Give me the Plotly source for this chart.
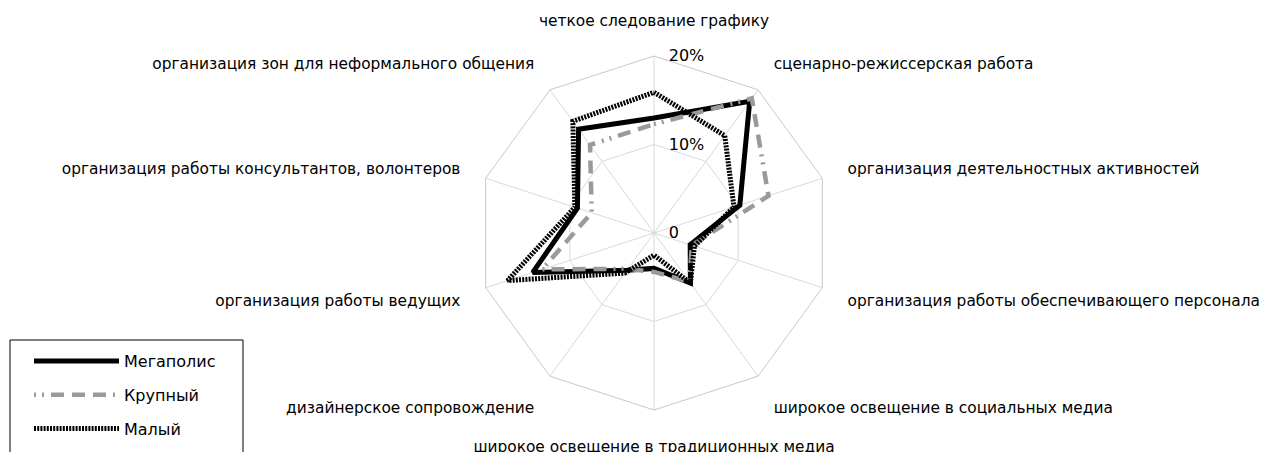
import plotly.graph_objects as go

categories = [
    "четкое следование графику",
    "сценарно-режиссерская работа",
    "организация деятельностных активностей",
    "организация работы обеспечивающего персонала",
    "широкое освещение в социальных медиа",
    "широкое освещение в традиционных медиа",
    "дизайнерское сопровождение",
    "организация работы ведущих",
    "организация работы консультантов, волонтеров",
    "организация зон для неформального общения",
]
megapolis = [13.0, 18.4, 10.2, 4.3, 7.0, 4.0, 5.2, 14.4, 9.1, 14.5]
krupny = [12.3, 18.8, 13.6, 4.5, 6.8, 4.4, 5.0, 13.3, 7.4, 12.3]
malyi = [15.9, 13.6, 9.5, 4.8, 7.0, 2.5, 5.6, 17.4, 9.4, 15.6]
series_names = ["Мегаполис", "Крупный", "Малый"]
radial_ticks = [0, 10, 20]
radial_ticktext = ["0", "10%", "20%"]

FONT = "DejaVu Sans, Liberation Sans, Arial, sans-serif"
OFF = 8  # page body margin offset
W, H = 1276 - OFF, 452 - OFF

def closed(v):
    return list(v) + [v[0]]

cats_closed = closed(categories)

fig = go.Figure()
styles = [
    dict(color="#000000", width=5, dash="solid"),
    dict(color="#9a9a9a", width=4.5, dash="2px,6px,2px,7px,13px,8px,13px,8px,13px,7px"),
    dict(color="#000000", width=5, dash="2px,1.2px"),
]
for i, (name, vals) in enumerate(zip(series_names, [megapolis, krupny, malyi])):
    fig.add_trace(go.Scatterpolar(
        r=closed(vals), theta=cats_closed, mode="lines", name=name,
        line=styles[i], legendgroup=f"g{i}",
    ))

cx, cy, R = 654 - OFF, 233 - OFF, 177
fig.update_layout(
    width=W, height=H,
    paper_bgcolor="white", plot_bgcolor="white",
    margin=dict(l=0, r=0, t=0, b=0),
    font=dict(family=FONT, size=16, color="#000000"),
    showlegend=True,
    legend=dict(
        x=21/W, y=(H-336)/H, xanchor="left", yanchor="top",
        borderwidth=0, bgcolor="rgba(0,0,0,0)",
        font=dict(family=FONT, size=16, color="#000000"),
        itemwidth=85, traceorder="grouped", tracegroupgap=10,
    ),
    shapes=[dict(
        type="rect", xref="paper", yref="paper",
        x0=2/W, x1=235/W, y0=-0.1, y1=(H-332)/H,
        line=dict(color="#000000", width=1), fillcolor="rgba(0,0,0,0)", layer="below",
    )],
    polar=dict(
        domain=dict(x=[(cx-R)/W, (cx+R)/W], y=[(H-cy-R)/H, (H-cy+R)/H]),
        gridshape="linear",
        bgcolor="white",
        radialaxis=dict(
            range=[0, 20], tickvals=radial_ticks, ticktext=radial_ticktext,
            angle=90, tickangle=90, showline=False,
            ticks="outside", ticklen=11, tickcolor="rgba(0,0,0,0)",
            gridcolor="#d9d9d9", gridwidth=1,
            tickfont=dict(family=FONT, size=16, color="#000000"),
            side="clockwise",
        ),
        angularaxis=dict(
            direction="clockwise", rotation=90,
            showline=True, linecolor="#c8c8c8", linewidth=1,
            gridcolor="#d9d9d9", gridwidth=1,
            ticks="outside", ticklen=23, tickcolor="rgba(0,0,0,0)",
            tickfont=dict(family=FONT, size=15.4, color="#000000"),
        ),
    ),
)
fig.write_html("out.html")
